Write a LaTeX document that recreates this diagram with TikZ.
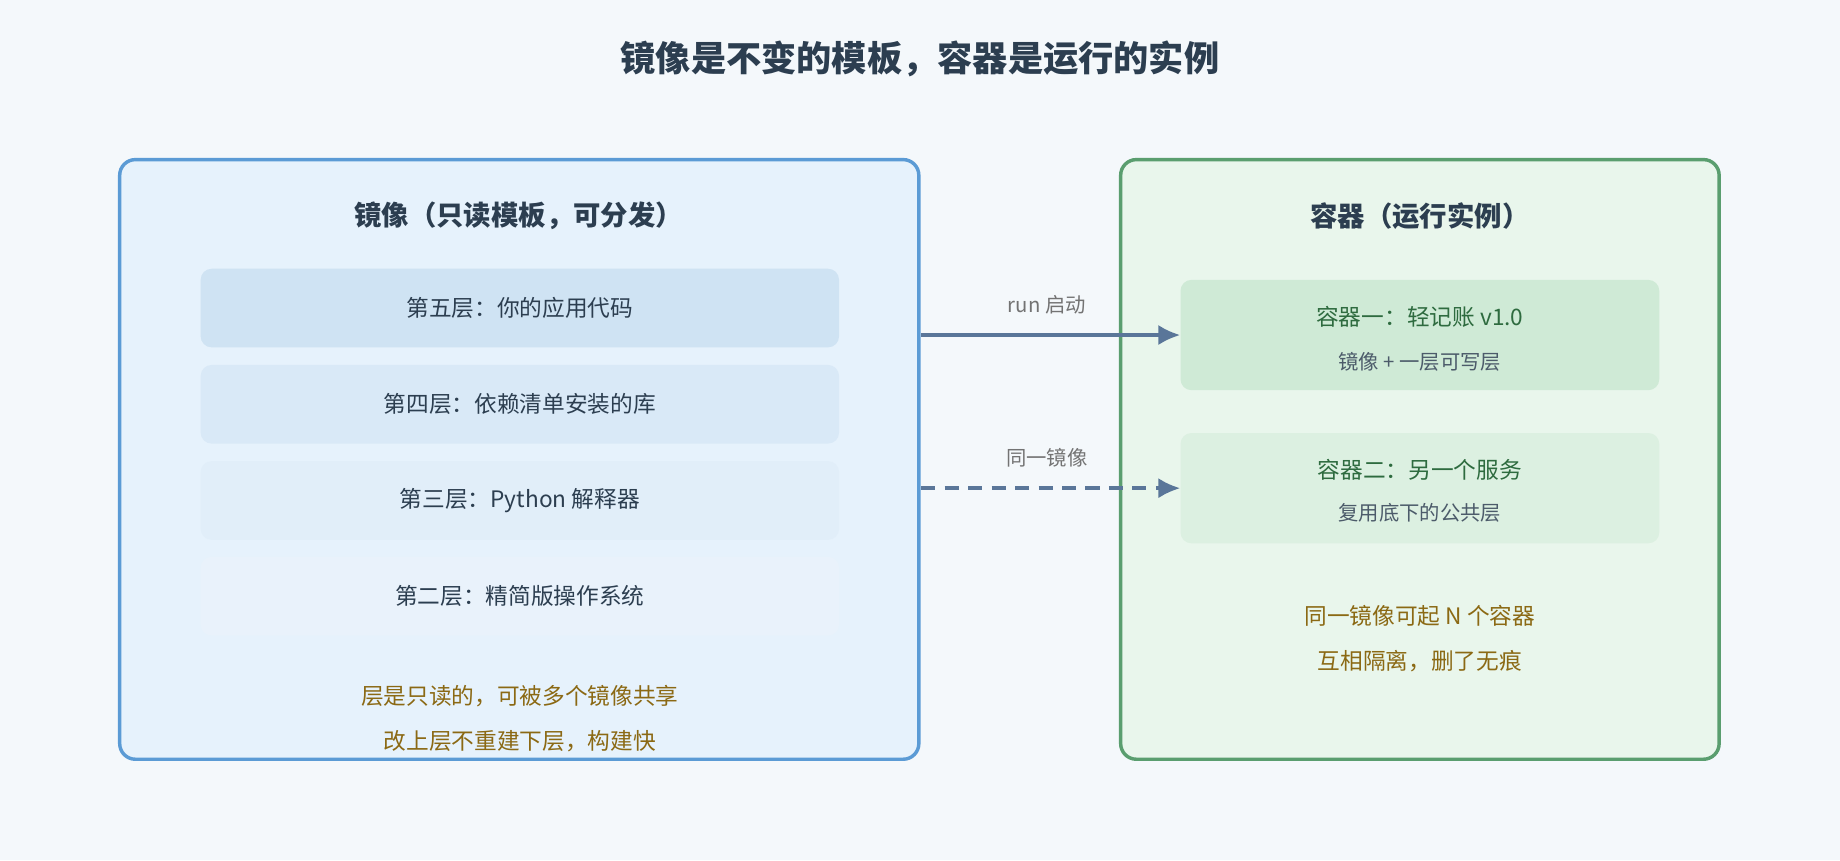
\documentclass[tikz,border=0pt]{standalone}
\usepackage{fontspec}
\setmainfont{Noto Sans CJK SC}
\usetikzlibrary{arrows.meta}
\definecolor{bg}{HTML}{F4F8FB}
\definecolor{ink}{HTML}{2C3E50}
\definecolor{gold}{HTML}{8B6914}
\definecolor{arr}{HTML}{5A7699}
\definecolor{gtxt}{HTML}{2E6B3F}
\definecolor{lbd}{HTML}{5B9BD5}
\definecolor{lbg}{HTML}{E6F2FC}
\definecolor{rbd}{HTML}{5A9E6F}
\definecolor{rbg}{HTML}{E9F6EC}
\definecolor{lyA}{HTML}{CFE3F3}
\definecolor{lyB}{HTML}{D9E9F7}
\definecolor{lyC}{HTML}{E1EEF9}
\definecolor{lyD}{HTML}{E9F2FB}
\definecolor{cA}{HTML}{CFEAD6}
\definecolor{cB}{HTML}{DCF0E1}
\begin{document}
\begin{tikzpicture}[x=0.75pt,y=-0.75pt,
  panel/.style={draw, line width=2.2pt, rounded corners=10pt, inner sep=0pt},
  layer/.style={rounded corners=7pt, minimum width=544*0.75pt, minimum height=67*0.75pt, inner sep=0pt, text=ink, font=\fontsize{14.5}{17}\selectfont},
  cbox/.style={rounded corners=7pt, minimum width=408*0.75pt, minimum height=94*0.75pt, inner sep=0pt},
  ttl/.style={text=ink, font=\fontsize{17.5}{21}\selectfont\bfseries},
  note/.style={text=gold, font=\fontsize{14.5}{17}\selectfont},
  lab/.style={text=black!55, font=\fontsize{13}{15}\selectfont},
  con/.style={draw=arr, line width=2.2pt, -{Latex[length=14pt,width=13pt]}}]
\fill[bg] (0,0) rectangle (1568,733);
\node[ttl, font=\fontsize{22.5}{27}\selectfont\bfseries] (title) at (784,50) {镜像是不变的模板，容器是运行的实例};
\node[panel, draw=lbd, fill=lbg, minimum width=681*0.75pt, minimum height=511*0.75pt] (L) at (442.5,391.5) {};
\node[ttl] (lt) at (442,184) {镜像（只读模板，可分发）};
\node[layer, fill=lyA] (l5) at (443,262.5) {第五层：你的应用代码};
\node[layer, fill=lyB] (l4) at (443,344.5) {第四层：依赖清单安装的库};
\node[layer, fill=lyC] (l3) at (443,426.5) {第三层：Python 解释器};
\node[layer, fill=lyD] (l2) at (443,508) {第二层：精简版操作系统};
\node[note] (n1) at (443,593) {层是只读的，可被多个镜像共享};
\node[note] (n2) at (443,632) {改上层不重建下层，构建快};
\node[panel, draw=rbd, fill=rbg, minimum width=510*0.75pt, minimum height=511*0.75pt] (R) at (1210,391.5) {};
\node[ttl] (rt) at (1210,184) {容器（运行实例）};
\node[cbox, fill=cA] (c1) at (1210,285.5) {};
\node[text=gtxt, font=\fontsize{14.5}{17}\selectfont] (c1a) at (1210,270) {容器一：轻记账 v1.0};
\node[text=ink!85, font=\fontsize{13}{15}\selectfont] (c1b) at (1210,308) {镜像 + 一层可写层};
\node[cbox, fill=cB] (c2) at (1210,416) {};
\node[text=gtxt, font=\fontsize{14.5}{17}\selectfont] (c2a) at (1210,400) {容器二：另一个服务};
\node[text=ink!85, font=\fontsize{13}{15}\selectfont] (c2b) at (1210,437) {复用底下的公共层};
\node[note] (n3) at (1210,525) {同一镜像可起 N 个容器};
\node[note] (n4) at (1210,563) {互相隔离，删了无痕};
\coordinate (a1) at (785,285.5);
\coordinate (a2) at (785,416);
\draw[con] (a1) -- (c1.west);
\draw[con, dash pattern=on 9pt off 6pt] (a2) -- (c2.west);
\node[lab] (r1) at (892,260) {run 启动};
\node[lab] (r2) at (892,390) {同一镜像};
\end{tikzpicture}
\end{document}
